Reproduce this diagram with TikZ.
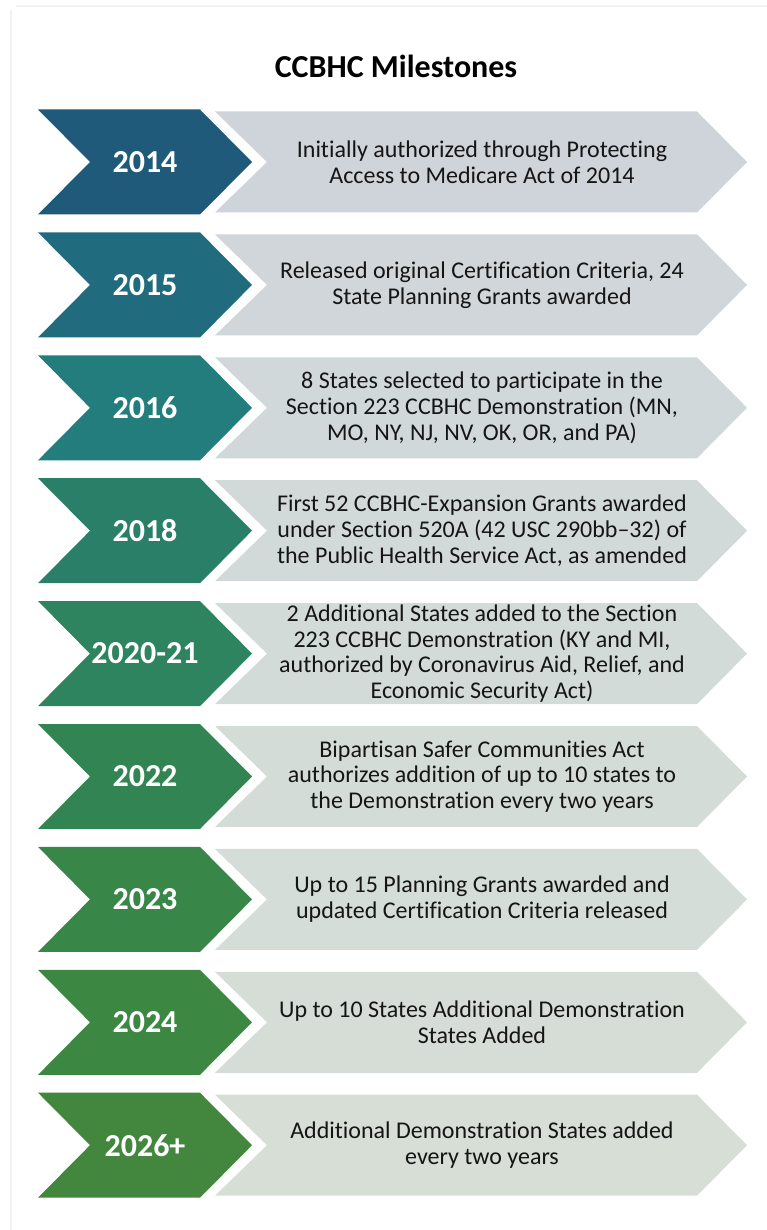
\documentclass[tikz,border=0pt]{standalone}
\usepackage{fontspec}
\setmainfont{Carlito}[Ligatures={NoCommon}]
\definecolor{d1}{HTML}{1F5A7B}
\definecolor{d2}{HTML}{216B7F}
\definecolor{d3}{HTML}{237D7C}
\definecolor{d4}{HTML}{2A7F68}
\definecolor{d5}{HTML}{2E845F}
\definecolor{d6}{HTML}{328553}
\definecolor{d7}{HTML}{388748}
\definecolor{d8}{HTML}{3C8842}
\definecolor{d9}{HTML}{42873D}
\definecolor{l1}{HTML}{CFD4DA}
\definecolor{l2}{HTML}{D0D6DA}
\definecolor{l3}{HTML}{D1D8DA}
\definecolor{l4}{HTML}{D2DAD9}
\definecolor{l5}{HTML}{D3DBD8}
\definecolor{l6}{HTML}{D4DCD8}
\definecolor{l7}{HTML}{D4DDD7}
\definecolor{l8}{HTML}{D5DDD6}
\definecolor{l9}{HTML}{D6DED5}
\definecolor{txt}{HTML}{151515}
\definecolor{framecol}{HTML}{F2F2F2}
\tikzset{
  yearlbl/.style={text=white, font=\fontsize{32}{36}\selectfont\bfseries, inner sep=0pt},
  desclbl/.style={text=txt, font=\fontsize{24}{25.8}\selectfont, align=center, inner sep=0pt},
  titlelbl/.style={text=black, font=\fontsize{32}{36}\selectfont\bfseries, inner sep=0pt}
}
\newcommand\milestone[3]{%
  \pgfmathsetmacro\cy{162+(#1-1)*122.9}
  \fill[d#1] (38,\cy-52.5) -- (200,\cy-52.5) -- (252,\cy) -- (200,\cy+52.5) -- (38,\cy+52.5) -- (90,\cy) -- cycle;
  \fill[l#1] (215,\cy-50.5) -- (697,\cy-50.5) -- (747,\cy) -- (697,\cy+50.5) -- (215,\cy+50.5) -- (267,\cy) -- cycle;
  \node[yearlbl] (y#1) at (145,\cy) {#2};
  \node[desclbl] (t#1) at (482,\cy) {#3};
}
\begin{document}
\begin{tikzpicture}[x=1pt,y=-1pt]
\fill[white] (0,0) rectangle (767,1230);
\useasboundingbox (0,0) rectangle (767,1230);
\draw[framecol, line width=1.2pt] (16,6) -- (767,6);
\draw[framecol, line width=1.2pt] (11,10) -- (11,1230);
\node[titlelbl] (title) at (396,66) {CCBHC Milestones};
\milestone{1}{2014}{Initially authorized through Protecting\\Access to Medicare Act of 2014}
\milestone{2}{2015}{Released original Certification Criteria, 24\\State Planning Grants awarded}
\milestone{3}{2016}{8 States selected to participate in the\\Section 223 CCBHC Demonstration (MN,\\MO, NY, NJ, NV, OK, OR, and PA)}
\milestone{4}{2018}{First 52 CCBHC-Expansion Grants awarded\\under Section 520A (42 USC 290bb–32) of\\the Public Health Service Act, as amended}
\milestone{5}{2020-21}{2 Additional States added to the Section\\223 CCBHC Demonstration (KY and MI,\\authorized by Coronavirus Aid, Relief, and\\Economic Security Act)}
\milestone{6}{2022}{Bipartisan Safer Communities Act\\authorizes addition of up to 10 states to\\the Demonstration every two years}
\milestone{7}{2023}{Up to 15 Planning Grants awarded and\\updated Certification Criteria released}
\milestone{8}{2024}{Up to 10 States Additional Demonstration\\States Added}
\milestone{9}{2026+}{Additional Demonstration States added\\every two years}
\end{tikzpicture}
\end{document}
